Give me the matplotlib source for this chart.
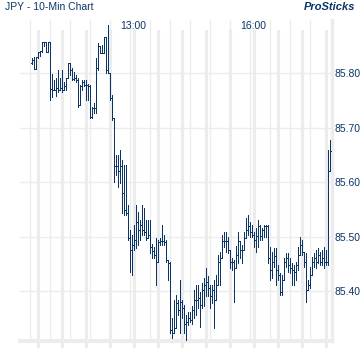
import matplotlib
matplotlib.use("Agg")
import matplotlib.pyplot as plt
import numpy as np

# 10-minute OHLC bars, JPY
opens = [85.819, 85.824, 85.808, 85.830, 85.839, 85.841, 85.858, 85.858, 85.839, 85.858,
         85.771, 85.769, 85.769, 85.773, 85.769, 85.773, 85.769, 85.777, 85.791, 85.819,
         85.806, 85.790, 85.791, 85.788, 85.742, 85.777, 85.784, 85.778, 85.778, 85.777,
         85.720, 85.736, 85.736, 85.810, 85.850, 85.837, 85.837, 85.867, 85.806, 85.800,
         85.755, 85.718, 85.630, 85.630, 85.620, 85.630, 85.580, 85.549, 85.543, 85.497,
         85.475, 85.484, 85.494, 85.527, 85.512, 85.521, 85.512, 85.508, 85.497, 85.503,
         85.481, 85.473, 85.466, 85.453, 85.490, 85.492, 85.492, 85.490, 85.457, 85.451,
         85.328, 85.323, 85.332, 85.378, 85.365, 85.380, 85.369, 85.339, 85.343, 85.350,
         85.347, 85.365, 85.383, 85.383, 85.387, 85.374, 85.402, 85.411, 85.416, 85.406,
         85.391, 85.402, 85.383, 85.411, 85.453, 85.461, 85.492, 85.492, 85.492, 85.475,
         85.453, 85.453, 85.442, 85.466, 85.492, 85.475, 85.475, 85.497, 85.512, 85.519,
         85.508, 85.503, 85.494, 85.501, 85.519, 85.501, 85.512, 85.519, 85.519, 85.461,
         85.438, 85.453, 85.464, 85.438, 85.429, 85.398, 85.420, 85.453, 85.461, 85.448,
         85.442, 85.438, 85.435, 85.448, 85.466, 85.484, 85.472, 85.453, 85.402, 85.411,
         85.429, 85.453, 85.461, 85.453, 85.466, 85.453, 85.461, 85.453, 85.453, 85.620]
highs = [85.828, 85.830, 85.830, 85.839, 85.841, 85.858, 85.858, 85.858, 85.858, 85.858,
         85.799, 85.788, 85.791, 85.806, 85.791, 85.806, 85.784, 85.791, 85.819, 85.819,
         85.810, 85.802, 85.797, 85.791, 85.778, 85.788, 85.788, 85.788, 85.780, 85.778,
         85.738, 85.745, 85.828, 85.856, 85.850, 85.852, 85.867, 85.867, 85.889, 85.800,
         85.760, 85.718, 85.650, 85.650, 85.659, 85.641, 85.631, 85.631, 85.558, 85.512,
         85.503, 85.521, 85.558, 85.545, 85.530, 85.558, 85.552, 85.530, 85.530, 85.530,
         85.486, 85.481, 85.497, 85.494, 85.497, 85.521, 85.503, 85.494, 85.457, 85.453,
         85.350, 85.383, 85.393, 85.383, 85.420, 85.383, 85.374, 85.356, 85.361, 85.361,
         85.372, 85.402, 85.411, 85.411, 85.398, 85.415, 85.424, 85.442, 85.427, 85.411,
         85.411, 85.420, 85.429, 85.466, 85.472, 85.503, 85.508, 85.508, 85.499, 85.475,
         85.461, 85.457, 85.482, 85.508, 85.492, 85.484, 85.508, 85.534, 85.540, 85.527,
         85.521, 85.508, 85.516, 85.530, 85.521, 85.516, 85.521, 85.521, 85.521, 85.481,
         85.472, 85.479, 85.479, 85.448, 85.433, 85.429, 85.461, 85.470, 85.470, 85.461,
         85.451, 85.448, 85.453, 85.481, 85.499, 85.494, 85.472, 85.470, 85.420, 85.444,
         85.462, 85.470, 85.475, 85.479, 85.472, 85.475, 85.481, 85.475, 85.659, 85.677]
lows = [85.817, 85.808, 85.808, 85.828, 85.832, 85.839, 85.850, 85.839, 85.839, 85.751,
        85.756, 85.769, 85.758, 85.766, 85.769, 85.766, 85.769, 85.769, 85.791, 85.797,
        85.788, 85.788, 85.784, 85.738, 85.742, 85.769, 85.777, 85.751, 85.751, 85.718,
        85.718, 85.727, 85.727, 85.806, 85.837, 85.837, 85.837, 85.800, 85.800, 85.751,
        85.714, 85.600, 85.613, 85.591, 85.598, 85.543, 85.540, 85.540, 85.494, 85.435,
        85.429, 85.475, 85.479, 85.484, 85.494, 85.503, 85.503, 85.494, 85.497, 85.470,
        85.461, 85.461, 85.411, 85.453, 85.484, 85.484, 85.484, 85.453, 85.420, 85.323,
        85.313, 85.323, 85.332, 85.356, 85.323, 85.350, 85.323, 85.310, 85.337, 85.343,
        85.339, 85.350, 85.356, 85.369, 85.334, 85.369, 85.372, 85.391, 85.391, 85.369,
        85.378, 85.332, 85.383, 85.411, 85.411, 85.461, 85.481, 85.472, 85.470, 85.442,
        85.438, 85.380, 85.442, 85.451, 85.461, 85.451, 85.475, 85.497, 85.503, 85.499,
        85.499, 85.481, 85.472, 85.481, 85.494, 85.494, 85.499, 85.499, 85.451, 85.420,
        85.424, 85.444, 85.411, 85.420, 85.393, 85.393, 85.420, 85.444, 85.435, 85.433,
        85.411, 85.411, 85.420, 85.438, 85.466, 85.466, 85.444, 85.380, 85.402, 85.406,
        85.429, 85.444, 85.442, 85.451, 85.448, 85.448, 85.442, 85.448, 85.448, 85.620]
closes = [85.824, 85.808, 85.830, 85.839, 85.841, 85.858, 85.858, 85.839, 85.858, 85.771,
          85.769, 85.769, 85.773, 85.769, 85.773, 85.769, 85.777, 85.791, 85.819, 85.806,
          85.790, 85.791, 85.788, 85.742, 85.777, 85.784, 85.778, 85.778, 85.777, 85.720,
          85.736, 85.736, 85.810, 85.850, 85.837, 85.837, 85.867, 85.806, 85.800, 85.755,
          85.718, 85.630, 85.630, 85.620, 85.630, 85.580, 85.549, 85.543, 85.497, 85.475,
          85.484, 85.494, 85.527, 85.512, 85.521, 85.512, 85.508, 85.497, 85.503, 85.481,
          85.473, 85.466, 85.453, 85.490, 85.492, 85.492, 85.490, 85.457, 85.451, 85.328,
          85.323, 85.332, 85.378, 85.365, 85.380, 85.369, 85.339, 85.343, 85.350, 85.347,
          85.365, 85.383, 85.383, 85.387, 85.374, 85.402, 85.411, 85.416, 85.406, 85.391,
          85.402, 85.383, 85.411, 85.453, 85.461, 85.492, 85.492, 85.492, 85.475, 85.453,
          85.453, 85.442, 85.466, 85.492, 85.475, 85.475, 85.497, 85.512, 85.519, 85.508,
          85.503, 85.494, 85.501, 85.519, 85.501, 85.512, 85.519, 85.519, 85.461, 85.438,
          85.453, 85.464, 85.438, 85.429, 85.398, 85.420, 85.453, 85.461, 85.448, 85.442,
          85.438, 85.435, 85.448, 85.466, 85.484, 85.472, 85.453, 85.402, 85.411, 85.429,
          85.453, 85.461, 85.453, 85.466, 85.453, 85.461, 85.453, 85.453, 85.620, 85.657]

price_ticks = [85.40, 85.50, 85.60, 85.70, 85.80]
time_labels = ['13:00', '16:00']
time_pos = [50.5, 110.5]

navy = '#0b3566'
grey = '#ececec'

fig = plt.figure(figsize=(3.6, 3.6), dpi=100)
ax = fig.add_axes([20/360, 19/360, 311.5/360, 321/360])
ax.set_xlim(-6, 149.75)
ax.set_ylim(85.308, 85.898)

# background grid
for p in price_ticks:
    ax.axhline(p, color=grey, lw=1.0, zorder=0)
for k in range(15):
    ax.axvline(-0.85 + 10*k, color=grey, lw=1.0, zorder=0)
for k in range(13):
    ax.axvline(3.15 + 12*k, ymin=-0.016, ymax=0.966, color=grey, lw=2.3,
               zorder=0, clip_on=False)

# ohlc bars
n = len(opens)
x = np.arange(n)
ax.vlines(x, lows, highs, color=navy, lw=0.72, antialiased=False, zorder=3)
ax.hlines(opens, x - 0.5, x, color=navy, lw=0.72, antialiased=False, zorder=3)
ax.hlines(closes, x, x + 0.5, color=navy, lw=0.72, antialiased=False, zorder=3)

for s in ['top', 'left']:
    ax.spines[s].set_visible(False)
ax.spines['bottom'].set_color(grey)
ax.spines['bottom'].set_linewidth(3)
ax.spines['right'].set_color(grey)
ax.spines['right'].set_linewidth(2.5)
ax.spines['right'].set_zorder(1)

ax.set_xticks([])
ax.yaxis.tick_right()
ax.set_yticks(price_ticks)
ax.set_yticklabels(['%.2f' % p for p in price_ticks])
ax.tick_params(axis='y', length=0, pad=2, labelsize=7.5, labelcolor=navy)
for lab in ax.get_yticklabels():
    lab.set_fontfamily('Liberation Sans')

for t, p in zip(time_labels, time_pos):
    ax.text(p, 0.98, t, transform=ax.get_xaxis_transform(), ha='center',
            va='center', fontsize=7.5, color=navy, family='Liberation Sans')

fig.text(5/360, 1 - 7.5/360, 'JPY - 10-Min Chart', ha='left', va='center',
         fontsize=7.5, color=navy, family='Liberation Sans')
fig.text(355/360, 1 - 7.5/360, 'ProSticks', ha='right', va='center',
         fontsize=8, color=navy, family='Liberation Sans', weight='bold', style='italic')

fig.savefig('out.png', dpi=100, facecolor='white')
